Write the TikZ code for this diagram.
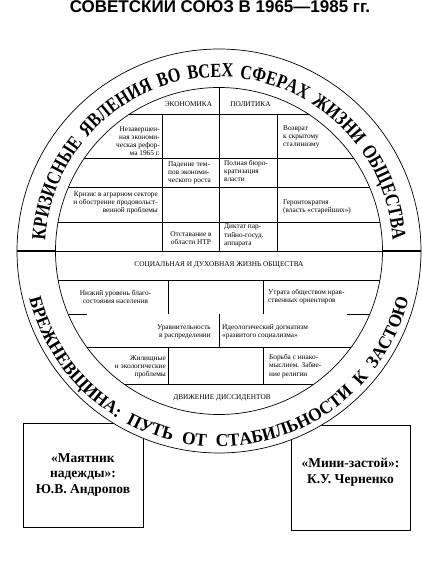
\documentclass[tikz,border=0pt]{standalone}
\usepackage{fontspec}
\setmainfont{Liberation Serif}
\newfontfamily\ringfont[FakeStretch=0.81]{Liberation Serif Bold}
\newfontfamily\lowringfont[FakeStretch=0.97]{Liberation Serif Bold}
\newfontfamily\titlefont{Liberation Sans Bold}
\usetikzlibrary{decorations.text}

\begin{document}
\begin{tikzpicture}[x=1pt, y=1pt,
    cell/.style={inner sep=0pt, font=\fontsize{7.3}{8.2}\selectfont},
    lcell/.style={cell, anchor=west, align=left},
    rcell/.style={cell, anchor=east, align=right},
    ccell/.style={cell, align=center},
    grid/.style={draw=black, line width=0.7pt},
    ring/.style={draw=black, line width=0.7pt},
    namebox/.style={rectangle, draw=black, line width=0.8pt, fill=white, minimum width=120pt, minimum height=104pt},
    nametext/.style={inner sep=0pt, align=center, font=\fontsize{13.5}{15.5}\selectfont\bfseries},
    ringtext/.style={decorate, decoration={text along path, text align={fit to path stretching spaces}, text={#1}}}
]
    \useasboundingbox (-219,-311) rectangle (203,251);

    % --- Title ---
    \node[anchor=base, inner sep=0pt, font=\titlefont\fontsize{17}{19}\selectfont] (title) at (1,238) {СОВЕТСКИЙ СОЮЗ В 1965—1985 гг.};

    % --- Boxes under the circle ---
    \node[namebox] (andropov) at (-136,-224) {};
    \node[nametext] (andropovtext) at (andropov.center) {«Маятник\\надежды»:\\Ю.В. Андропов};
    \node[namebox, minimum width=119pt, minimum height=105pt] (chernenko) at (131.5,-226.5) {};
    \node[nametext] (chernenkotext) at ([yshift=5pt]chernenko.center) {«Мини-застой»:\\К.У. Черненко};

    % --- Circle and ring ---
    \draw[ring, fill=white] (0,0) circle[radius=202];
    \begin{scope}
        \clip (0,0) circle[radius=163.5];
        % upper half
        \draw[grid] (0,170) -- (0,0);
        \draw[grid] (-170,137) -- (170,137);
        \draw[grid] (-170,93) -- (170,93);
        \draw[grid] (-170,64) -- (170,64);
        \draw[grid] (-170,29) -- (170,29);
        \draw[grid] (-57,137) -- (-57,0);
        \draw[grid] (58,137) -- (58,0);
        \draw[grid] (-170,0) -- (170,0);
        % lower half
        \draw[grid] (-170,-29) -- (170,-29);
        \draw[grid] (-51,-29) -- (-51,-63);
        \draw[grid] (44,-29) -- (44,-63);
        \draw[grid] (-170,-63) -- (-132,-63);
        \draw[grid] (128,-63) -- (170,-63);
        \draw[grid] (0,-63) -- (0,-96);
        \draw[grid] (-170,-96) -- (170,-96);
        \draw[grid] (-51,-96) -- (-51,-133);
        \draw[grid] (44,-96) -- (44,-133);
        \draw[grid] (-170,-133) -- (170,-133);
    \end{scope}
    \draw[ring] (0,0) circle[radius=163.5];
    \draw[line width=2.5pt] (-202,0) -- (-163.5,0);
    \draw[line width=2.5pt] (163.5,0) -- (202,0);

    % --- Ring texts ---
    \path[ringtext={|\ringfont\fontsize{20}{20}\selectfont|КРИЗИСНЫЕ ЯВЛЕНИЯ ВО ВСЕХ СФЕРАХ ЖИЗНИ ОБЩЕСТВА}]
        (176.5:174) arc[start angle=176.5, end angle=3.5, radius=174];
    \path[ringtext={|\lowringfont\fontsize{18}{18}\selectfont|БРЕЖНЕВЩИНА: ПУТЬ ОТ СТАБИЛЬНОСТИ К ЗАСТОЮ}]
        (194:195.5) arc[start angle=194, end angle=346, radius=195.5];

    % --- Economy and politics ---
    \node[cell] (economy) at (-30.5,147) {ЭКОНОМИКА};
    \node[cell] (politics) at (31.5,147) {ПОЛИТИКА};
    \node[rcell] (reform) at (-59,110) {Незавершен-\\ная экономи-\\ческая рефор-\\ма 1965 г.};
    \node[lcell] (stalinism) at (64,114) {Возврат\\к скрытому\\сталинизму};
    \node[lcell] (growth) at (-51,78) {Падение тем-\\пов экономи-\\ческого роста};
    \node[lcell] (bureau) at (5,80) {Полная бюро-\\кратизация\\власти};
    \node[rcell] (agrar) at (-61,48) {Кризис в аграрном секторе\\и обострение продовольст-\\венной проблемы};
    \node[lcell] (geronto) at (64,44) {Геронтократия\\(власть «старейших»)};
    \node[ccell] (ntr) at (-28,12.5) {Отставание в\\области НТР};
    \node[lcell] (dictat) at (5,15.5) {Диктат пар-\\тийно-госуд.\\аппарата};

    % --- Social life ---
    \node[cell] (social) at (0,-14) {СОЦИАЛЬНАЯ И ДУХОВНАЯ ЖИЗНЬ ОБЩЕСТВА};
    \node[ccell] (welfare) at (-103.5,-46) {Низкий уровень благо-\\состояния населения};
    \node[lcell] (moral) at (49,-46) {Утрата обществом нрав-\\ственных ориентиров};
    \node[rcell] (equal) at (-8,-80.5) {Уравнительность\\в распределении};
    \node[lcell] (dogma) at (3,-80.5) {Идеологический догматизм\\«развитого социализма»};
    \node[rcell] (housing) at (-53,-116) {Жилищные\\и экологические\\проблемы};
    \node[lcell] (religion) at (50,-115) {Борьба с инако-\\мыслием. Забве-\\ние религии};
    \node[cell] (dissidents) at (3,-147) {ДВИЖЕНИЕ ДИССИДЕНТОВ};

\end{tikzpicture}
\end{document}
